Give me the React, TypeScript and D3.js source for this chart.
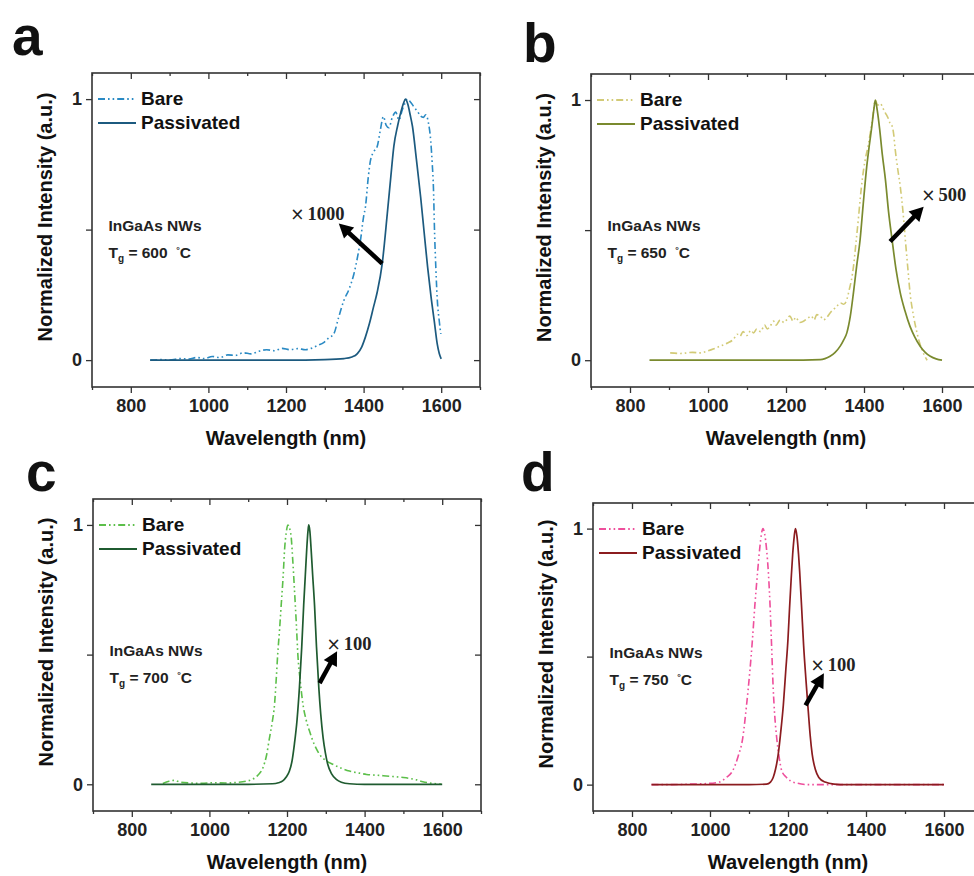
import React, { useEffect, useRef } from 'react';
import * as d3 from 'd3';

type Pt = [number, number];

// axis ticks / labels
const xTicks = [800, 1000, 1200, 1400, 1600];
const xMinorTicks = [700, 900, 1100, 1300, 1500, 1700];
const yTicks = [0, 0.5, 1];
const yTickLabels = ['0', '', '1'];
const seriesNames = ['Bare', 'Passivated'];
const panelLetters = ['a', 'b', 'c', 'd'];
const growthTemps = ['600', '650', '700', '750'];
const factors = ['1000', '500', '100', '100'];

// panel a (600 C)
const bareA: Pt[] = [
  [850, 0], [880, 0.002], [900, 0], [930, 0.006], [950, 0.004], [970, 0.01], [990, 0.006], [1010, 0.014],
  [1030, 0.01], [1050, 0.02], [1070, 0.018], [1090, 0.028], [1110, 0.024], [1130, 0.034], [1150, 0.04],
  [1170, 0.036], [1190, 0.045], [1210, 0.04], [1230, 0.044], [1250, 0.04], [1265, 0.045], [1280, 0.055],
  [1298, 0.068], [1310, 0.085], [1323, 0.1], [1335, 0.16], [1349, 0.228], [1362, 0.27], [1375, 0.33],
  [1385, 0.4], [1392, 0.46], [1400, 0.55], [1405, 0.59], [1412, 0.7], [1418, 0.767], [1427, 0.8],
  [1435, 0.818], [1443, 0.88], [1451, 0.933], [1458, 0.9], [1465, 0.89], [1474, 0.93], [1483, 0.95],
  [1491, 0.92], [1500, 0.96], [1507, 0.985], [1513, 1.0], [1520, 0.99], [1530, 0.97], [1540, 0.95],
  [1547, 0.935], [1554, 0.93], [1560, 0.94], [1567, 0.91], [1573, 0.84], [1577, 0.75], [1580, 0.66],
  [1583, 0.485], [1586, 0.36], [1590, 0.23], [1595, 0.15], [1599, 0.1],
];
const passA: Pt[] = [
  [850, 0], [1000, 0], [1200, 0], [1300, 0.002], [1350, 0.006], [1370, 0.012], [1384, 0.025], [1395, 0.05],
  [1405, 0.09], [1415, 0.14], [1425, 0.2], [1435, 0.26], [1448, 0.37], [1461, 0.56], [1470, 0.7],
  [1478, 0.82], [1488, 0.9], [1496, 0.95], [1503, 0.985], [1508, 1.0], [1514, 0.98], [1520, 0.94],
  [1526, 0.895], [1536, 0.77], [1547, 0.625], [1556, 0.49], [1565, 0.356], [1574, 0.24], [1582, 0.151],
  [1590, 0.06], [1595, 0.025], [1600, 0.005],
];

// panel b (650 C)
const bareB: Pt[] = [
  [903, 0.028], [930, 0.026], [960, 0.03], [980, 0.028], [1000, 0.036], [1015, 0.044], [1031, 0.054],
  [1050, 0.066], [1065, 0.08], [1075, 0.1], [1082, 0.092], [1090, 0.11], [1100, 0.095], [1110, 0.115],
  [1117, 0.105], [1125, 0.12], [1135, 0.11], [1145, 0.135], [1152, 0.12], [1159, 0.13], [1168, 0.15],
  [1175, 0.135], [1185, 0.155], [1195, 0.145], [1202, 0.156], [1210, 0.17], [1218, 0.15], [1225, 0.165],
  [1235, 0.145], [1245, 0.15], [1255, 0.16], [1265, 0.17], [1272, 0.155], [1279, 0.175], [1288, 0.17],
  [1296, 0.155], [1305, 0.165], [1315, 0.185], [1322, 0.195], [1330, 0.207], [1340, 0.22], [1348, 0.215],
  [1356, 0.233], [1362, 0.27], [1368, 0.31], [1373, 0.36], [1380, 0.46], [1386, 0.55], [1390, 0.616],
  [1396, 0.7], [1403, 0.77], [1410, 0.82], [1416, 0.872], [1422, 0.93], [1429, 1.0], [1435, 0.98],
  [1442, 0.987], [1448, 0.97], [1455, 0.95], [1462, 0.93], [1467, 0.91], [1472, 0.9], [1476, 0.87],
  [1480, 0.81], [1486, 0.74], [1493, 0.667], [1500, 0.57], [1506, 0.463], [1512, 0.36], [1518, 0.26],
  [1527, 0.17], [1536, 0.105], [1543, 0.065], [1549, 0.04], [1555, 0.018], [1562, 0],
];
const passB: Pt[] = [
  [850, 0], [1000, 0], [1200, 0], [1288, 0.002], [1300, 0.006], [1313, 0.015], [1326, 0.03], [1339, 0.054],
  [1348, 0.078], [1356, 0.105], [1365, 0.17], [1373, 0.26], [1381, 0.36], [1390, 0.463], [1398, 0.6],
  [1407, 0.744], [1414, 0.83], [1420, 0.898], [1425, 0.96], [1429, 1.0], [1434, 0.96], [1440, 0.89],
  [1447, 0.79], [1455, 0.693], [1463, 0.57], [1472, 0.463], [1482, 0.35], [1493, 0.259], [1505, 0.19],
  [1518, 0.13], [1530, 0.09], [1544, 0.054], [1557, 0.03], [1570, 0.015], [1585, 0.005], [1600, 0],
];

// panel c (700 C)
const bareC: Pt[] = [
  [880, 0.003], [896, 0.012], [910, 0.015], [925, 0.008], [950, 0.005], [980, 0.004], [1010, 0.006],
  [1040, 0.005], [1070, 0.007], [1095, 0.012], [1112, 0.02], [1125, 0.035], [1138, 0.064], [1147, 0.11],
  [1155, 0.18], [1162, 0.24], [1168, 0.31], [1172, 0.4], [1176, 0.5], [1181, 0.6], [1185, 0.69],
  [1190, 0.8], [1194, 0.91], [1198, 0.97], [1202, 1.0], [1206, 0.99], [1211, 0.95], [1215, 0.86],
  [1219, 0.757], [1224, 0.62], [1228, 0.5], [1234, 0.4], [1241, 0.31], [1249, 0.25], [1258, 0.205],
  [1270, 0.155], [1284, 0.115], [1300, 0.092], [1318, 0.077], [1340, 0.062], [1361, 0.051], [1383, 0.044],
  [1405, 0.038], [1440, 0.034], [1473, 0.03], [1500, 0.026], [1534, 0.017], [1550, 0.01], [1568, 0.005],
  [1598, 0],
];
const passC: Pt[] = [
  [850, 0], [1000, 0], [1100, 0], [1163, 0.002], [1178, 0.006], [1189, 0.013], [1198, 0.028], [1206, 0.05],
  [1213, 0.09], [1219, 0.154], [1226, 0.25], [1232, 0.372], [1238, 0.53], [1243, 0.69], [1247, 0.8],
  [1251, 0.91], [1254, 0.975], [1256, 1.0], [1259, 0.975], [1262, 0.91], [1266, 0.81], [1271, 0.69],
  [1276, 0.53], [1282, 0.372], [1287, 0.27], [1293, 0.18], [1299, 0.12], [1305, 0.077], [1315, 0.04],
  [1327, 0.019], [1340, 0.008], [1361, 0.002], [1400, 0], [1600, 0],
];

// panel d (750 C)
const bareD: Pt[] = [
  [850, 0], [902, 0], [950, 0.002], [990, 0.004], [1024, 0.01], [1042, 0.028], [1058, 0.054], [1072, 0.11],
  [1084, 0.183], [1093, 0.3], [1102, 0.44], [1109, 0.57], [1115, 0.7], [1122, 0.83], [1128, 0.93],
  [1132, 0.98], [1136, 1.0], [1140, 0.98], [1145, 0.92], [1150, 0.82], [1154, 0.7], [1158, 0.54],
  [1162, 0.377], [1166, 0.27], [1171, 0.183], [1177, 0.11], [1184, 0.054], [1195, 0.03], [1206, 0.015],
  [1225, 0.005], [1249, 0], [1600, 0],
];
const passD: Pt[] = [
  [850, 0], [1000, 0], [1100, 0], [1145, 0.002], [1155, 0.01], [1162, 0.028], [1168, 0.06], [1175, 0.119],
  [1181, 0.2], [1188, 0.31], [1194, 0.44], [1200, 0.57], [1204, 0.69], [1208, 0.8], [1212, 0.9],
  [1216, 0.97], [1219, 1.0], [1223, 0.97], [1227, 0.9], [1230, 0.83], [1235, 0.69], [1240, 0.545],
  [1246, 0.41], [1252, 0.287], [1257, 0.19], [1262, 0.119], [1270, 0.06], [1279, 0.028], [1295, 0.01],
  [1318, 0.002], [1350, 0], [1600, 0],
];

// arrows (data coords: tail -> tip) and where the "x N" label starts
const arrowTails: Pt[] = [[1448, 0.37], [1467, 0.456], [1284, 0.39], [1245, 0.31]];
const arrowTips: Pt[] = [[1336, 0.523], [1553, 0.59], [1329, 0.513], [1292, 0.435]];
const factorAnchors: Pt[] = [[1211, 0.537], [1547, 0.61], [1302, 0.516], [1258, 0.443]];

const panels = [
  { left: 92, top: 73, w: 388, h: 314, letter: [12, 55], bare: bareA, pass: passA, bareColor: '#2a8ac4', passColor: '#1c5a7f' },
  { left: 591, top: 74, w: 390, h: 313, letter: [523, 62], bare: bareB, pass: passB, bareColor: '#d2ca76', passColor: '#7a8a2e' },
  { left: 93, top: 499, w: 388, h: 312, letter: [26, 491], bare: bareC, pass: passC, bareColor: '#5cbf4a', passColor: '#1f5b30' },
  { left: 593, top: 503, w: 390, h: 308, letter: [521, 491], bare: bareD, pass: passD, bareColor: '#ee4f9c', passColor: '#8b1c1f' },
];

const FONT = '"Liberation Sans", Arial, sans-serif';
const BARE_DASH = '7,3,1.6,3,1.6,3';

const App = () => {
  const ref = useRef<SVGSVGElement>(null);

  useEffect(() => {
    document.body.style.margin = '0';
    const svg = d3.select(ref.current);
    svg.selectAll('*').remove();

    panels.forEach((p, i) => {
      const x = d3.scaleLinear().domain([700, 1700]).range([0, p.w]);
      const y = d3.scaleLinear().domain([-0.103, 1.1]).range([p.h, 0]);

      // panel letter
      svg
        .append('text')
        .attr('x', p.letter[0])
        .attr('y', p.letter[1])
        .style('font-family', FONT)
        .style('font-weight', 'bold')
        .style('font-size', '55px')
        .attr('fill', '#111')
        .text(panelLetters[i]);

      const g = svg.append('g').attr('transform', `translate(${p.left},${p.top})`);

      const styleAxis = (sel: any) => {
        sel.select('.domain').remove();
        sel.selectAll('line').attr('stroke', '#333').attr('stroke-width', 1.3);
        sel
          .selectAll('text')
          .style('font-family', FONT)
          .style('font-weight', 'bold')
          .style('font-size', '18px')
          .attr('fill', '#222');
      };

      // bottom (outward) + minor
      g.append('g')
        .attr('transform', `translate(0,${p.h})`)
        .call(d3.axisBottom(x).tickValues(xTicks).tickSize(6).tickPadding(6).tickFormat(d3.format('d')))
        .call(styleAxis);
      g.append('g')
        .attr('transform', `translate(0,${p.h})`)
        .call(d3.axisBottom(x).tickValues(xMinorTicks).tickSize(3).tickFormat(() => ''))
        .call(styleAxis);
      // top (inward)
      g.append('g').call(d3.axisBottom(x).tickValues(xTicks).tickSize(6).tickFormat(() => '')).call(styleAxis);
      g.append('g').call(d3.axisBottom(x).tickValues(xMinorTicks).tickSize(3).tickFormat(() => '')).call(styleAxis);
      // left (outward)
      g.append('g')
        .call(
          d3
            .axisLeft(y)
            .tickValues(yTicks)
            .tickSize(6)
            .tickPadding(4)
            .tickFormat((_d, k) => yTickLabels[k])
        )
        .call(styleAxis);
      // right (inward)
      g.append('g')
        .attr('transform', `translate(${p.w},0)`)
        .call(d3.axisLeft(y).tickValues(yTicks).tickSize(6).tickFormat(() => ''))
        .call(styleAxis);

      // frame
      g.append('rect')
        .attr('width', p.w)
        .attr('height', p.h)
        .attr('fill', 'none')
        .attr('stroke', '#333')
        .attr('stroke-width', 1.6);

      // curves
      const line = d3
        .line<Pt>()
        .x((d) => x(d[0]))
        .y((d) => y(d[1]))
        .curve(d3.curveMonotoneX);

      g.append('path')
        .attr('d', line(p.bare))
        .attr('fill', 'none')
        .attr('stroke', p.bareColor)
        .attr('stroke-width', 1.6)
        .attr('stroke-dasharray', BARE_DASH);
      g.append('path')
        .attr('d', line(p.pass))
        .attr('fill', 'none')
        .attr('stroke', p.passColor)
        .attr('stroke-width', 1.7);

      // legend
      seriesNames.forEach((name, k) => {
        const ly = 26 + 24 * k;
        g.append('line')
          .attr('x1', 6)
          .attr('x2', 44)
          .attr('y1', ly)
          .attr('y2', ly)
          .attr('stroke', k === 0 ? p.bareColor : p.passColor)
          .attr('stroke-width', k === 0 ? 1.8 : 2)
          .attr('stroke-dasharray', k === 0 ? BARE_DASH : null);
        g.append('text')
          .attr('x', 49)
          .attr('y', ly + 6)
          .style('font-family', FONT)
          .style('font-weight', 'bold')
          .style('font-size', '19px')
          .attr('fill', '#111')
          .text(name);
      });

      // sample annotation
      const ann = g
        .append('g')
        .style('font-family', FONT)
        .style('font-weight', 'bold')
        .style('font-size', '15.5px')
        .attr('fill', '#222');
      ann.append('text').attr('x', 16.5).attr('y', y(0.5) + 1).text('InGaAs NWs');
      const tg = ann.append('text').attr('x', 16.5).attr('y', y(0.5) + 28);
      tg.append('tspan').text('T');
      tg.append('tspan').attr('dy', 4).style('font-size', '10px').text('g');
      tg.append('tspan').attr('dy', -4).text(` = ${growthTemps[i]}\u00a0\u00a0`);
      tg.append('tspan').attr('dy', -5).style('font-size', '9px').text('\u00b0');
      tg.append('tspan').attr('dy', 5).text('C');

      // arrow
      const t0 = arrowTails[i];
      const t1 = arrowTips[i];
      const px0 = x(t0[0]);
      const py0 = y(t0[1]);
      const px1 = x(t1[0]);
      const py1 = y(t1[1]);
      const len = Math.hypot(px1 - px0, py1 - py0);
      const ux = (px1 - px0) / len;
      const uy = (py1 - py0) / len;
      const hl = 14;
      const hw = 7.5;
      const bx = px1 - ux * hl;
      const by = py1 - uy * hl;
      g.append('line')
        .attr('x1', px0)
        .attr('y1', py0)
        .attr('x2', bx + ux * 2)
        .attr('y2', by + uy * 2)
        .attr('stroke', '#000')
        .attr('stroke-width', 4.5);
      g.append('path')
        .attr(
          'd',
          `M${px1},${py1}L${bx - uy * hw},${by + ux * hw}L${bx + uy * hw},${by - ux * hw}Z`
        )
        .attr('fill', '#000');

      // factor label
      const fa = factorAnchors[i];
      const ft = g
        .append('text')
        .attr('x', x(fa[0]))
        .attr('y', y(fa[1]))
        .attr('fill', '#222')
        .style('font-family', '"Liberation Serif", "DejaVu Serif", serif');
      ft.append('tspan').style('font-family', '"DejaVu Sans", sans-serif').style('font-size', '17px').text('\u00d7');
      ft.append('tspan').attr('dx', 3).style('font-weight', 'bold').style('font-size', '18.5px').text(factors[i]);

      // axis titles
      g.append('text')
        .attr('x', p.w / 2)
        .attr('y', p.h + 58)
        .attr('text-anchor', 'middle')
        .style('font-family', FONT)
        .style('font-weight', 'bold')
        .style('font-size', '20px')
        .attr('fill', '#111')
        .text('Wavelength (nm)');
      g.append('text')
        .attr('transform', `translate(-40,${p.h / 2 - 13}) rotate(-90)`)
        .attr('text-anchor', 'middle')
        .style('font-family', FONT)
        .style('font-weight', 'bold')
        .style('font-size', '20px')
        .attr('fill', '#111')
        .text('Normalized Intensity (a.u.)');
    });
  }, []);

  return <svg ref={ref} width={974} height={876} style={{ display: 'block', background: '#fff' }} />;
};

export default App;
